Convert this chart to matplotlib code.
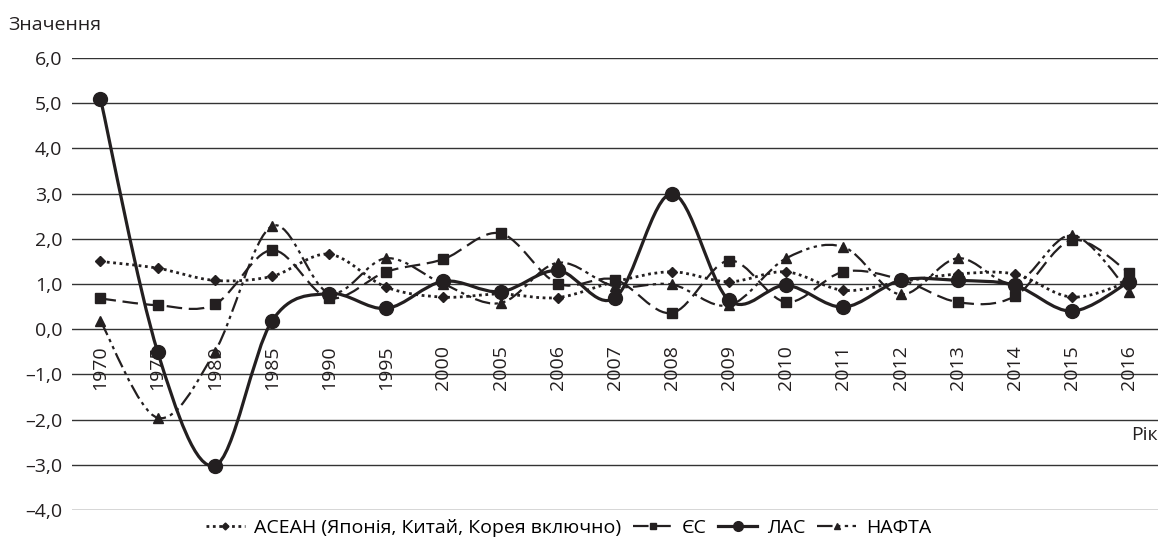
import numpy as np
import matplotlib
matplotlib.use("Agg")
import matplotlib.pyplot as plt
from matplotlib.path import Path
from matplotlib.patches import PathPatch
from matplotlib.lines import Line2D

plt.rcParams['font.family'] = ['Open Sans', 'DejaVu Sans']

years = ["1970", "1975", "1980", "1985", "1990", "1995", "2000", "2005", "2006", "2007",
         "2008", "2009", "2010", "2011", "2012", "2013", "2014", "2015", "2016"]

asean = [1.50, 1.35, 1.08, 1.17, 1.66, 0.93, 0.71, 0.78, 0.70, 1.05,
         1.27, 1.05, 1.27, 0.86, 1.05, 1.22, 1.22, 0.71, 1.05]
eu = [0.68, 0.53, 0.55, 1.75, 0.69, 1.27, 1.55, 2.12, 1.01, 1.10,
      0.36, 1.52, 0.60, 1.27, 1.10, 0.60, 0.73, 1.97, 1.25]
las = [5.10, -0.50, -3.02, 0.18, 0.79, 0.46, 1.06, 0.83, 1.30, 0.69,
       3.00, 0.64, 0.97, 0.49, 1.08, 1.08, 0.97, 0.40, 1.05]
nafta = [0.18, -1.96, -0.50, 2.28, 0.80, 1.57, 1.00, 0.58, 1.47, 0.95,
         0.99, 0.53, 1.57, 1.82, 0.77, 1.57, 1.02, 2.08, 0.83]

names = ["АСЕАН (Японія, Китай, Корея включно)", "ЄС", "ЛАС", "НАФТА"]
ink = "#231f20"
fs = 14


def smooth_path(x, y):
    # Catmull-Rom style smoothing drawn as cubic Bezier segments
    p = np.column_stack([x, y]).astype(float)
    n = len(p)
    verts = [p[0]]
    codes = [Path.MOVETO]
    for i in range(n - 1):
        p0 = p[i - 1] if i > 0 else p[i]
        p3 = p[i + 2] if i + 2 < n else p[i + 1]
        c1 = p[i] + (p[i + 1] - p0) / 6
        c2 = p[i + 1] - (p3 - p[i]) / 6
        verts += [c1, c2, p[i + 1]]
        codes += [Path.CURVE4] * 3
    return Path(verts, codes)


fig = plt.figure(figsize=(11.6, 5.5), dpi=100)
ax = fig.add_axes([0.062, 0.0727, 0.936, 0.8218])
x = np.arange(len(years))

styles = [
    (asean, dict(ls=(0, (1, 1.3)), lw=2.0), dict(marker="D", ms=5)),
    (eu, dict(ls=(0, (7, 3)), lw=1.6), dict(marker="s", ms=7)),
    (las, dict(ls="-", lw=2.3), dict(marker="o", ms=10)),
    (nafta, dict(ls=(0, (7, 2, 1.5, 2, 1.5, 2)), lw=1.6), dict(marker="^", ms=7)),
]

handles = []
for (vals, lst, mk), name in zip(styles, names):
    patch = PathPatch(smooth_path(x, vals), facecolor="none", edgecolor=ink,
                      linestyle=lst["ls"], linewidth=lst["lw"], zorder=3, clip_on=False)
    ax.add_patch(patch)
    ax.plot(x, vals, linestyle="none", color=ink, zorder=4, clip_on=False, **mk)
    handles.append(Line2D([], [], color=ink, linestyle=lst["ls"], linewidth=lst["lw"],
                          marker=mk["marker"], markersize=mk["ms"] * 0.7, label=name))

ax.set_xlim(-0.5, len(years) - 0.5)
ax.set_ylim(-4, 6)
yt = np.arange(-4, 7, 1)
ax.set_yticks(yt)
ax.set_yticklabels([("–" if v < 0 else "") + f"{abs(v):.1f}".replace(".", ",") for v in yt],
                   fontsize=fs, color=ink)
ax.tick_params(axis="y", length=0, pad=7)
ax.set_xticks([])
for s in ax.spines.values():
    s.set_visible(False)
for v in yt:
    ax.axhline(v, color="#333333", lw=1.0, zorder=1)

for i, yr in enumerate(years):
    ax.text(i, -0.36, yr, rotation=90, ha="center", va="top", fontsize=fs, color=ink, zorder=2)

fig.text(0.007, 0.955, "Значення", fontsize=fs, ha="left", va="center", color=ink)
ax.text(18.5, -2.15, "Рік", fontsize=fs, ha="right", va="top", color=ink)

fig.legend(handles=handles, loc="center", bbox_to_anchor=(0.49, 0.04), ncol=4, frameon=False,
           fontsize=fs, handlelength=2.0, handletextpad=0.5, columnspacing=0.6)

fig.savefig("out.png", dpi=100)
